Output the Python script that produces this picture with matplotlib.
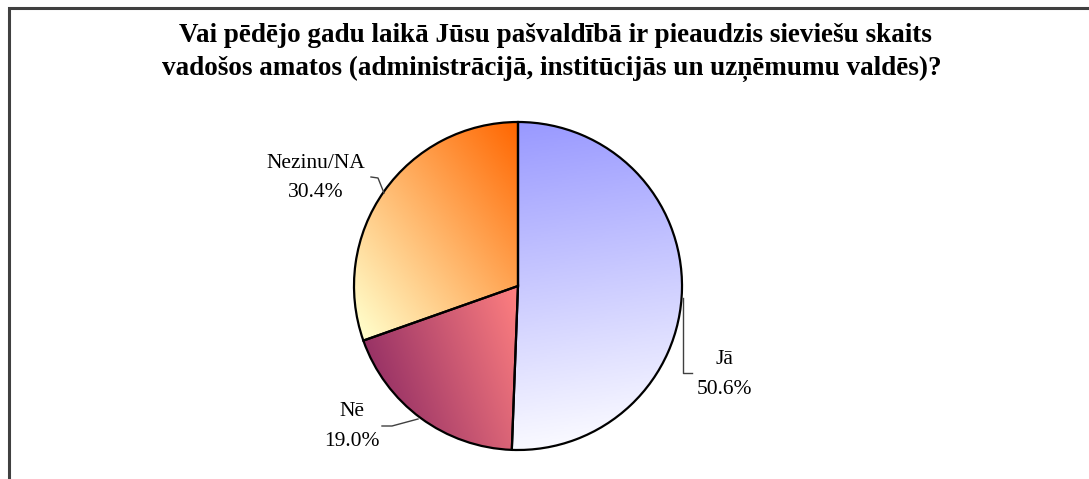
import numpy as np
import matplotlib
matplotlib.use("Agg")
import matplotlib.pyplot as plt
from matplotlib.colors import LinearSegmentedColormap

# ---- data ----
categories = ["Jā", "Nē", "Nezinu/NA"]
values = [50.6, 19.0, 30.4]
value_labels = ["50.6%", "19.0%", "30.4%"]
title_lines = ["Vai pēdējo gadu laikā Jūsu pašvaldībā ir pieaudzis sieviešu skaits",
               "vadošos amatos (administrācijā, institūcijās un uzņēmumu valdēs)?"]

W, H = 1089, 479
fig = plt.figure(figsize=(W / 100, H / 100), dpi=100)
ax = fig.add_axes([0, 0, 1, 1])

cx, cy, R = 518, H - 286, 164
wedges, _ = ax.pie(values, startangle=90, counterclock=False, center=(cx, cy),
                   radius=R, wedgeprops=dict(facecolor="none", edgecolor="black",
                                             linewidth=1.6), frame=True)
ax.set_xlim(0, W)
ax.set_ylim(0, H)
ax.set_aspect("auto")
ax.axis("off")

# gradient fills: (start colour, end colour, direction vector from start to end)
grads = [
    ("#9999ff", "#fafaff", (0.15, -1.0)),   # Jā: blue top -> white bottom
    ("#ff8080", "#993366", (-1.0, -0.35)),  # Nē: pink right -> dark magenta left
    ("#ff6600", "#ffffcc", (-0.8, -0.6)),   # Nezinu: orange top-right -> pale yellow bottom-left
]
n = 300
xs = np.linspace(cx - R, cx + R, n)
ys = np.linspace(cy - R, cy + R, n)
X, Y = np.meshgrid(xs, ys)
for w, (c0, c1, d) in zip(wedges, grads):
    d = np.array(d, float)
    d /= np.linalg.norm(d)
    verts = w.get_path().vertices
    tr = w.get_patch_transform()
    pts = tr.transform(verts)
    proj_pts = pts @ d
    pmin, pmax = proj_pts.min(), proj_pts.max()
    P = (X * d[0] + Y * d[1] - pmin) / (pmax - pmin)
    P = np.clip(P, 0, 1)
    cmap = LinearSegmentedColormap.from_list("g", [c0, c1])
    im = ax.imshow(P, cmap=cmap, vmin=0, vmax=1, origin="lower",
                   extent=(cx - R, cx + R, cy - R, cy + R), zorder=0,
                   interpolation="bilinear")
    im.set_clip_path(w)
for w in wedges:
    w.set_zorder(2)
ax.set_xlim(0, W)
ax.set_ylim(0, H)

# frame (only top and left edges visible)
ax.plot([9, 9, W + 5], [-5, H - 8, H - 8], color="#404040", lw=2.2, zorder=5,
        solid_joinstyle="miter", clip_on=False)

serif = "Liberation Serif"
# title
ax.text(555, H - 42, title_lines[0], ha="center", va="baseline", fontsize=19.5,
        fontweight="bold", family=serif)
ax.text(552, H - 75, title_lines[1], ha="center", va="baseline", fontsize=19.5,
        fontweight="bold", family=serif)

# labels
lab_pos = [(724, 360, 390), (352, 412, 442), (316, 163, 192)]
for cat, vl, (lx, y1, y2) in zip(categories, value_labels, lab_pos):
    ax.text(lx, H - y1, cat, ha="center", va="center", fontsize=15.5, family=serif)
    ax.text(lx, H - y2, vl, ha="center", va="center", fontsize=15.5, family=serif)

# leader lines
lc = "#404040"
ax.plot([683, 683, 692], [H - 298, H - 373, H - 373], color=lc, lw=1, zorder=3)
ax.plot([382, 392, 418], [H - 426, H - 426, H - 419], color=lc, lw=1, zorder=3)
ax.plot([371, 378, 384], [H - 177, H - 178, H - 193], color=lc, lw=1, zorder=3)

fig.savefig("out.png", dpi=100)
